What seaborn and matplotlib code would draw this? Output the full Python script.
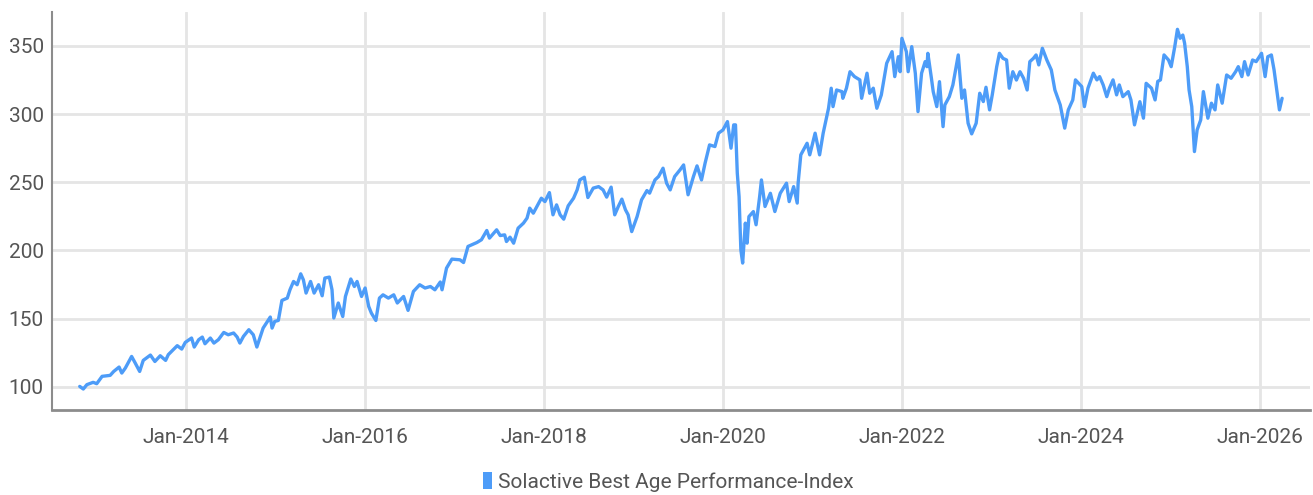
import pandas as pd
import seaborn as sns
import matplotlib.pyplot as plt
from matplotlib.patches import Patch

# index level, x as decimal year
years = [2012.81, 2012.85, 2012.89, 2012.96, 2013.00, 2013.06, 2013.15, 2013.19, 2013.25, 2013.28,
         2013.32, 2013.34, 2013.39, 2013.43, 2013.48, 2013.52, 2013.60, 2013.65, 2013.71, 2013.77,
         2013.80, 2013.90, 2013.95, 2013.99, 2014.06, 2014.09, 2014.14, 2014.18, 2014.21, 2014.27,
         2014.31, 2014.36, 2014.42, 2014.47, 2014.53, 2014.57, 2014.60, 2014.64, 2014.70, 2014.75,
         2014.79, 2014.83, 2014.86, 2014.94, 2014.96, 2014.99, 2015.03, 2015.07, 2015.13, 2015.16,
         2015.20, 2015.24, 2015.28, 2015.31, 2015.34, 2015.39, 2015.43, 2015.48, 2015.52, 2015.55,
         2015.60, 2015.63, 2015.65, 2015.70, 2015.75, 2015.78, 2015.84, 2015.88, 2015.91, 2015.96,
         2016.00, 2016.04, 2016.07, 2016.12, 2016.16, 2016.20, 2016.26, 2016.32, 2016.36, 2016.43,
         2016.48, 2016.54, 2016.61, 2016.67, 2016.73, 2016.78, 2016.84, 2016.86, 2016.91, 2016.97,
         2017.06, 2017.10, 2017.15, 2017.25, 2017.30, 2017.36, 2017.39, 2017.47, 2017.51, 2017.56,
         2017.58, 2017.62, 2017.66, 2017.71, 2017.77, 2017.81, 2017.84, 2017.88, 2017.92, 2017.97,
         2018.01, 2018.06, 2018.10, 2018.14, 2018.18, 2018.22, 2018.27, 2018.33, 2018.37, 2018.40,
         2018.45, 2018.49, 2018.55, 2018.61, 2018.66, 2018.70, 2018.75, 2018.79, 2018.83, 2018.87,
         2018.91, 2018.94, 2018.98, 2019.04, 2019.09, 2019.15, 2019.18, 2019.24, 2019.28, 2019.33,
         2019.37, 2019.41, 2019.46, 2019.52, 2019.56, 2019.59, 2019.61, 2019.67, 2019.71, 2019.76,
         2019.80, 2019.85, 2019.91, 2019.95, 2020.00, 2020.05, 2020.09, 2020.12, 2020.14, 2020.16,
         2020.18, 2020.20, 2020.22, 2020.25, 2020.27, 2020.29, 2020.34, 2020.37, 2020.41, 2020.43,
         2020.47, 2020.53, 2020.58, 2020.64, 2020.71, 2020.74, 2020.79, 2020.83, 2020.84, 2020.87,
         2020.94, 2020.97, 2021.03, 2021.08, 2021.12, 2021.18, 2021.21, 2021.23, 2021.27, 2021.33,
         2021.34, 2021.38, 2021.42, 2021.47, 2021.53, 2021.55, 2021.61, 2021.64, 2021.68, 2021.72,
         2021.77, 2021.83, 2021.89, 2021.92, 2021.96, 2021.98, 2022.00, 2022.05, 2022.07, 2022.11,
         2022.15, 2022.18, 2022.22, 2022.26, 2022.28, 2022.29, 2022.33, 2022.35, 2022.39, 2022.42,
         2022.46, 2022.48, 2022.53, 2022.57, 2022.63, 2022.67, 2022.70, 2022.74, 2022.78, 2022.83,
         2022.87, 2022.91, 2022.94, 2022.98, 2023.01, 2023.06, 2023.09, 2023.13, 2023.17, 2023.20,
         2023.24, 2023.28, 2023.32, 2023.36, 2023.40, 2023.43, 2023.47, 2023.50, 2023.53, 2023.57,
         2023.62, 2023.67, 2023.71, 2023.77, 2023.82, 2023.86, 2023.91, 2023.94, 2024.01, 2024.04,
         2024.08, 2024.14, 2024.18, 2024.21, 2024.25, 2024.29, 2024.32, 2024.36, 2024.40, 2024.43,
         2024.47, 2024.53, 2024.56, 2024.60, 2024.66, 2024.70, 2024.73, 2024.79, 2024.83, 2024.86,
         2024.89, 2024.93, 2024.98, 2025.01, 2025.05, 2025.08, 2025.11, 2025.14, 2025.16, 2025.19,
         2025.21, 2025.24, 2025.27, 2025.30, 2025.34, 2025.37, 2025.42, 2025.46, 2025.50, 2025.53,
         2025.58, 2025.63, 2025.68, 2025.73, 2025.76, 2025.80, 2025.83, 2025.87, 2025.92, 2025.96,
         2026.02, 2026.06, 2026.09, 2026.13, 2026.16, 2026.19, 2026.22, 2026.25]
values = [100.2, 98.3, 101.5, 103.2, 102.2, 107.6, 108.3, 111.2, 114.4, 110.0,
          113.7, 116.1, 122.2, 117.4, 111.2, 119.3, 123.2, 118.5, 122.7, 119.3,
          123.5, 130.1, 127.6, 132.5, 135.7, 129.1, 134.5, 136.4, 131.5, 135.7,
          132.0, 134.5, 139.8, 138.1, 139.4, 136.4, 132.0, 136.9, 141.8, 138.1,
          129.1, 136.9, 143.0, 151.1, 143.0, 147.9, 148.6, 163.3, 165.0, 171.1,
          177.2, 174.8, 182.8, 178.4, 168.7, 177.2, 168.7, 174.8, 166.7, 179.7,
          180.4, 171.1, 150.4, 161.4, 151.5, 166.2, 179.0, 173.5, 177.2, 166.2,
          172.4, 158.9, 154.0, 148.6, 165.0, 167.4, 165.0, 167.4, 161.4, 166.2,
          156.0, 169.9, 174.8, 172.4, 173.5, 171.1, 176.8, 171.1, 187.0, 193.6,
          193.1, 191.1, 202.9, 205.8, 207.8, 214.6, 209.0, 215.1, 210.9, 211.4,
          206.5, 209.7, 205.3, 216.3, 220.0, 223.7, 231.0, 227.3, 232.2, 238.3,
          235.8, 242.4, 226.1, 233.4, 226.1, 222.9, 232.7, 238.3, 244.4, 251.7,
          253.7, 238.8, 245.7, 246.8, 244.4, 239.1, 246.4, 226.1, 232.2, 237.6,
          229.8, 226.1, 213.8, 224.8, 237.1, 243.9, 242.0, 251.7, 254.2, 260.3,
          249.3, 244.4, 254.2, 259.1, 262.7, 249.3, 240.8, 254.2, 262.0, 251.7,
          264.0, 277.4, 276.2, 286.0, 288.4, 294.5, 275.0, 292.1, 292.1, 256.7,
          239.5, 200.4, 190.7, 220.0, 205.3, 224.8, 228.5, 218.8, 239.5, 251.7,
          232.2, 241.9, 228.5, 241.9, 249.3, 235.8, 246.8, 234.7, 249.3, 270.1,
          278.6, 270.1, 286.0, 270.1, 286.0, 304.3, 319.0, 305.5, 317.7, 316.5,
          311.6, 319.0, 331.1, 327.5, 325.1, 311.6, 330.0, 315.3, 319.0, 304.3,
          314.1, 337.3, 345.8, 327.5, 342.1, 331.1, 355.6, 345.8, 331.1, 349.5,
          330.0, 301.8, 330.0, 338.5, 334.8, 344.6, 326.3, 316.5, 305.5, 323.8,
          290.8, 306.7, 312.8, 321.4, 343.4, 311.6, 317.7, 293.3, 285.5, 293.3,
          315.3, 309.2, 319.7, 303.1, 314.1, 334.8, 344.6, 340.9, 339.7, 319.0,
          331.1, 325.0, 331.1, 326.3, 317.7, 338.5, 340.9, 343.4, 336.1, 348.3,
          339.7, 332.4, 317.7, 306.7, 289.7, 303.1, 310.4, 325.1, 320.2, 305.5,
          319.0, 330.0, 325.1, 327.5, 321.4, 312.8, 319.0, 325.1, 314.1, 321.4,
          312.8, 316.5, 310.4, 292.1, 309.1, 297.0, 322.6, 319.0, 310.4, 324.0,
          325.1, 343.4, 339.7, 334.8, 349.5, 362.2, 355.6, 358.0, 352.0, 334.8,
          317.7, 305.5, 272.5, 288.4, 295.7, 316.5, 297.0, 308.0, 303.1, 321.4,
          308.0, 328.7, 326.3, 331.1, 334.8, 327.5, 338.5, 328.7, 339.7, 338.5,
          344.6, 327.5, 342.1, 343.4, 332.4, 317.7, 303.1, 311.6]
series_name = "Solactive Best Age Performance-Index"
xticks = [2014, 2016, 2018, 2020, 2022, 2024, 2026]
xlabels = ["Jan-2014", "Jan-2016", "Jan-2018", "Jan-2020", "Jan-2022", "Jan-2024", "Jan-2026"]
yticks = [100, 150, 200, 250, 300, 350]

df = pd.DataFrame({"year": years, "value": values})

sns.set_style("white")
plt.rcParams["font.family"] = ["Roboto", "DejaVu Sans"]

fig = plt.figure(figsize=(13.13, 4.95), dpi=100)
ax = fig.add_axes([0.0396, 0.172, 0.958, 0.804])

line_color = "#4d9cf8"
sns.lineplot(data=df, x="year", y="value", color=line_color, linewidth=2.4, ax=ax)

ax.set_xlim(2012.50, 2026.56)
ax.set_ylim(83, 375)
ax.set_xticks(xticks)
ax.set_xticklabels(xlabels)
ax.set_yticks(yticks)
ax.set_xlabel("")
ax.set_ylabel("")

ax.grid(True, color="#e5e5e5", linewidth=2.0)
ax.set_axisbelow(True)
ax.tick_params(axis="both", length=0, labelsize=15, labelcolor="#555555")
ax.tick_params(axis="x", pad=13)
ax.tick_params(axis="y", pad=6)

for s in ["top", "right"]:
    ax.spines[s].set_visible(False)
ax.spines["left"].set_color("#8c8c8c")
ax.spines["left"].set_linewidth(1.5)
ax.spines["bottom"].set_color("#8c8c8c")
ax.spines["bottom"].set_linewidth(2.0)

handle = Patch(facecolor=line_color, edgecolor="none")
fig.legend([handle], [series_name], loc="center", bbox_to_anchor=(0.509, 0.027),
           frameon=False, fontsize=15, handlelength=0.45, handleheight=0.9,
           handletextpad=0.3, labelcolor="#555555")

fig.savefig("out.png", dpi=100)
